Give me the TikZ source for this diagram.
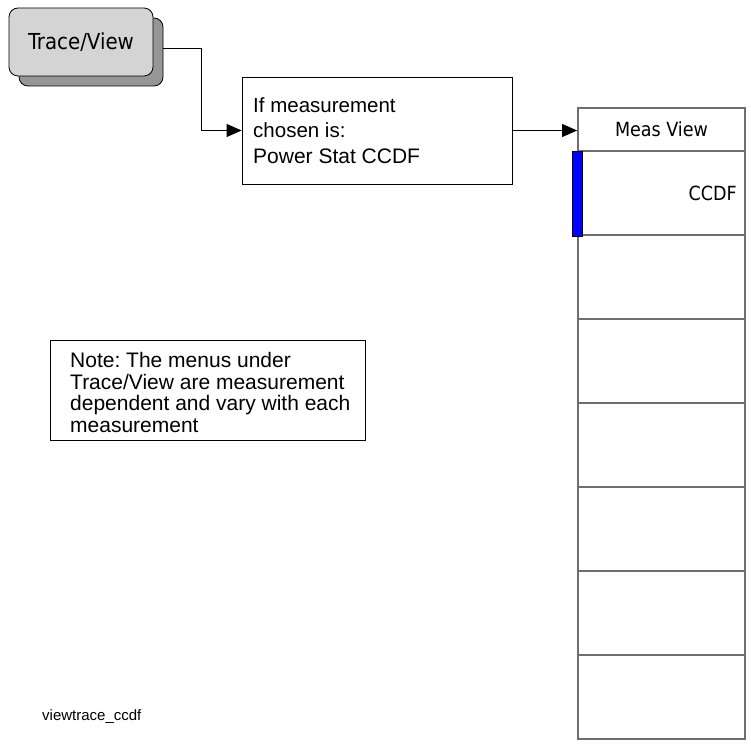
\documentclass[tikz,border=0pt]{standalone}
\usepackage{fontspec}
\setmainfont{Liberation Sans}
\newfontfamily\keyfont{DejaVu Sans Condensed}
\usetikzlibrary{arrows.meta}
\definecolor{keygray}{RGB}{212,212,212}
\definecolor{shadowgray}{RGB}{150,150,150}
\definecolor{cellgray}{RGB}{110,110,110}
\frenchspacing
\begin{document}
\begin{tikzpicture}[x=1pt,y=-1pt,
  keyface/.style={draw=black, line width=0.8pt, fill=keygray, rounded corners=9pt,
    minimum width=144pt, minimum height=68pt, inner sep=0pt,
    font=\keyfont\fontsize{22}{26}\selectfont},
  keyshadow/.style={draw=black, line width=0.8pt, fill=shadowgray, rounded corners=9pt,
    minimum width=144pt, minimum height=68pt, inner sep=0pt},
  infobox/.style={draw=black, line width=0.8pt, fill=white, inner sep=0pt},
  softcell/.style={draw=cellgray, line width=1.8pt, fill=white,
    minimum width=167pt, minimum height=84pt, inner sep=0pt},
  softtext/.style={font=\keyfont\fontsize{19.5}{23}\selectfont, inner sep=0pt},
  plaintext/.style={inner sep=0pt, align=left},
  arr/.style={line width=0.8pt, -{Triangle[length=15pt,width=13pt]}},
]
\useasboundingbox (0,0) rectangle (751,743);

% hardkey
\node[keyshadow] (keysh) at (91,52) {};
\node[keyface] (key) at (81,42) {Trace/View};

% condition box
\node[infobox, minimum width=270pt, minimum height=107pt] (cond) at (377,130.5) {};
\node[plaintext, anchor=west, font=\fontsize{20.5}{25}\selectfont] (condtext) at (253,131)
  {If measurement\\chosen is:\\[1pt]{\fontsize{21}{25}\selectfont Power Stat CCDF}};

% menu column
\node[softcell, minimum height=43pt] (mv) at (661.5,129.5) {};
\node[softtext] (mvtext) at (mv) {Meas View};
\foreach \i [evaluate=\i as \yy using 151+84*(\i-0.5)] in {1,...,7}{
  \node[softcell] (k\i) at (661.5,\yy) {};
}
\node[draw=black, line width=0.6pt, fill=blue, minimum width=10pt, minimum height=85pt, inner sep=0pt] (bar) at (577,193.5) {};
\node[softtext, anchor=east] (ccdf) at (737,193) {CCDF};

% connectors
\draw[arr] ([yshift=4pt]keysh.east) -- ++(38,0) |- (cond.west);
\draw[arr] (cond.east) -- (cond.east -| mv.west);

% note
\node[infobox, minimum width=315pt, minimum height=100pt] (note) at (207.5,390) {};
\node[plaintext, anchor=west, font=\fontsize{21}{21.7}\selectfont] (notetext) at (70,392.5)
  {Note: The menus under\\Trace/View are measurement\\dependent and vary with each\\measurement};

% figure label
\node[plaintext, anchor=west, font=\fontsize{15}{18}\selectfont] (lbl) at (42,717) {viewtrace\_ccdf};
\end{tikzpicture}
\end{document}
